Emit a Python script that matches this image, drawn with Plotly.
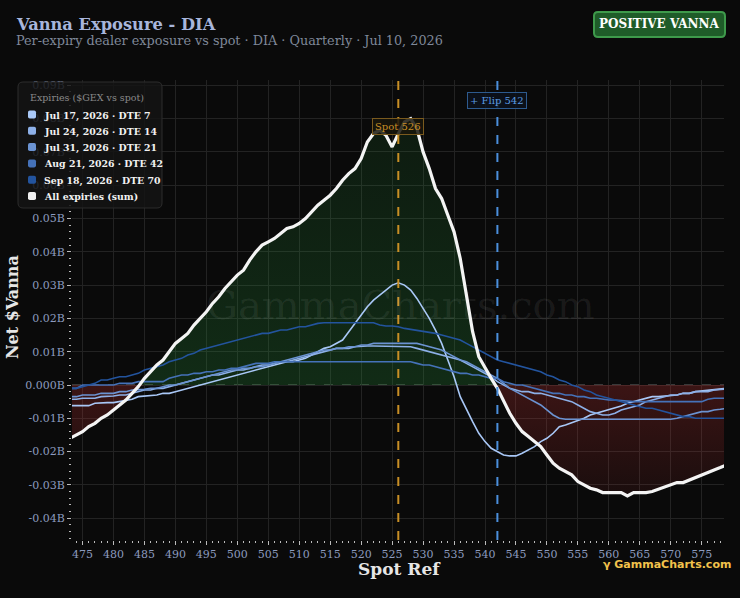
import plotly.graph_objects as go

# ---------------- data (values in $ millions; plotted in billions) ----------------
spot_ref = list(range(473, 580))

sum_all = [-16, -15, -14, -12.5, -11.5, -10, -9, -7.5, -6, -4.5, -2.5, -0.5, 2, 4, 6, 7.5, 10, 12.5, 14, 15.5,
           18, 20, 22, 24.5, 26.5, 29, 31, 33, 34.5, 37.5, 40, 42, 43, 44, 45.5, 47, 47.5, 48.5, 50, 52,
           54, 55.5, 57, 59, 61.5, 63.5, 65, 68, 73, 75.5, 76.5, 75, 71.5, 75.5, 79, 80, 77, 70, 65, 59,
           56, 51, 46, 38, 27, 16, 8.5, 5, 2, -1, -5, -8.5, -11.5, -14, -15.5, -17, -18.5, -21, -23.5, -25,
           -26, -27, -29, -30, -31, -31.5, -32.3, -32.3, -32.3, -32.3, -33.3, -32.3, -32.3, -32.3, -32, -31.3, -30.5, -30,
           -29.3, -29.3, -28.5, -27.8, -27, -26.3, -25.5, -24.8, -24]

dte7 = [-6.2, -6.2, -6.2, -6.2, -5.5, -5.3, -5.3, -5.3, -5, -4.7, -4.3, -3.5, -3.3, -3, -3, -2.5, -2.5, -2, -1.5, -1,
        -0.5, 0, 0.5, 1, 1.5, 2, 2.5, 3, 3.5, 4, 4.5, 5, 5.5, 6, 6.5, 7, 7, 7.5, 8, 9,
        10, 11, 11.5, 12.5, 13.5, 16, 18.5, 21, 23.5, 25.5, 27, 28.5, 30, 30.7, 30, 28.5, 26, 23, 20, 16.5,
        12.5, 7.5, 2.5, -3.5, -7.5, -11, -14.5, -17, -19, -20, -21, -21.3, -21.3, -20.5, -19.5, -18.5, -17, -16, -14.5, -12.5,
        -12, -11.3, -10.5, -10, -9, -8.5, -8, -7.5, -7, -6.3, -5.5, -5, -4.3, -4, -3.5, -3.5, -3.3, -3,
        -3, -2.5, -2.5, -2, -1.8, -1.5, -1.3, -1, -1]

dte14 = [-4.3, -4.3, -4, -4, -4, -3.5, -3.5, -3.3, -3, -3, -2.5, -2, -1.5, -1.5, -1, -1, -0.5, 0, 0.5, 1,
         1.5, 2, 2.5, 3, 3, 3.5, 4, 4.5, 4.5, 5, 5.5, 6, 6, 6.5, 7, 7, 7.5, 8, 8.5, 9,
         9.5, 10, 10.5, 11, 11, 11, 11.5, 11.7, 11.7, 11.7, 11.7, 11.7, 11.7, 11.7, 11.7, 11.5, 11, 10.5, 10, 9.5,
         9, 8.5, 8, 7.5, 6.5, 5.5, 4.5, 3.5, 2.5, 1, 0, -1, -1.5, -2, -2, -2.5, -2.5, -3, -3.5, -4,
         -4.5, -5, -6, -7, -8, -8.5, -9, -9, -8.5, -7.5, -7, -6.5, -6, -5, -4.5, -4, -3.5, -3,
         -3, -2.5, -2.5, -2, -2, -2, -1.5, -1.3, -1.2]

dte21 = [-3.5, -3.5, -3, -3, -3, -2.5, -2.5, -2.5, -2, -2, -1.5, -1.5, -1.3, -1, -1, -0.5, 0, 0, 0.5, 1,
         1.5, 2, 2.5, 3, 3.5, 4, 4.5, 4.5, 5, 5, 5.5, 5.5, 6, 6.5, 7, 7.5, 8, 8.5, 9, 9.5,
         10, 10.5, 10.5, 11, 11, 11.5, 11.5, 12, 12, 12.5, 12.5, 12.5, 12.5, 12.5, 12.5, 12.5, 12.5, 12, 11.5, 11,
         10.5, 9.5, 8.5, 7.5, 7, 6, 5, 4, 3, 2, 0.5, -1, -2, -3, -4, -5, -6, -7.5, -9, -10,
         -10.3, -10.3, -10.3, -10.3, -10.3, -10.3, -10.3, -10.3, -10.3, -10.3, -10.3, -10.3, -10.3, -10.3, -10.3, -10.3, -10.3, -10.3,
         -10, -9.5, -9, -8.5, -8, -8, -7.5, -7.3, -7]

dte42 = [-1, -1, 0, 0, 0, 0, 0, 0, 0.5, 0.5, 0.5, 1, 1, 1, 1, 1, 2, 2.5, 3, 3,
         3.5, 3.5, 4, 4, 4.5, 4.5, 5, 5, 5.5, 6, 6.5, 6.5, 6.5, 7, 7, 7, 7, 7, 7, 7,
         7, 7, 7, 7, 7, 7, 7, 7, 7, 7, 7, 7, 7, 7, 7, 7, 6.5, 6, 6, 5.5,
         5, 4.5, 4, 3.5, 3.5, 3, 3, 2.5, 2, 2, 1, 0.5, 0, 0, -0.5, -1, -1.5, -2, -2.5, -2.5,
         -3, -3, -3.5, -3.5, -4, -4, -4.3, -4.5, -4.5, -4.7, -5, -5, -5, -5, -5, -5, -5, -5,
         -5, -5, -5, -5, -5, -4.3, -4, -4, -4]

dte70 = [-1, -1, -0.5, 0, 0.5, 1.5, 1.5, 2, 2.5, 2.5, 3, 3.5, 4.5, 5, 5.5, 6, 7, 7.5, 8, 9,
         9.5, 10.5, 11, 11.5, 12, 12.5, 13, 13.5, 14, 14.5, 15, 15.5, 15.5, 16, 16.5, 16.5, 17, 17.5, 17.5, 18,
         18.5, 18.7, 18.7, 18.7, 18.7, 18.7, 18.7, 18.7, 18.7, 18.7, 18, 17.7, 17.7, 17.5, 17, 16.7, 16.5, 16, 15.7, 15.5,
         15, 14.5, 14, 13.5, 12.5, 11.5, 10.5, 9.5, 8.5, 7.5, 7, 6.5, 6, 5.5, 5, 4.5, 4, 3, 2.5, 1.5,
         1, 0, -0.5, -1.5, -2, -3, -3.5, -4, -4.5, -5, -5.5, -6, -6.5, -7, -7, -7.5, -8, -8.5,
         -9, -9.5, -9.5, -10, -10, -10, -10, -10, -10]

expiry_names = ["Jul 17, 2026 · DTE 7", "Jul 24, 2026 · DTE 14", "Jul 31, 2026 · DTE 21",
                "Aug 21, 2026 · DTE 42", "Sep 18, 2026 · DTE 70"]
expiry_series = [dte7, dte14, dte21, dte42, dte70]
expiry_colors = ["#a9c8f7", "#8db0e8", "#6b93d2", "#4572b9", "#23549e"]
sum_name = "All expiries (sum)"
sum_color = "#f4f4f4"

spot_price = 526
flip_price = 542

y_tickvals = [-0.04, -0.03, -0.02, -0.01, 0.0, 0.01, 0.02, 0.03, 0.04, 0.05, 0.06, 0.07, 0.08, 0.09]
y_ticktext = ["-0.04B", "-0.03B", "-0.02B", "-0.01B", "0.000B", "0.01B", "0.02B", "0.03B",
              "0.04B", "0.05B", "0.06B", "0.07B", "0.08B", "0.09B"]
x_tickvals = list(range(475, 580, 5))

# ---------------- figure ----------------
def to_b(vals):
    return [v / 1000.0 for v in vals]

sum_b = to_b(sum_all)
pos_part = [max(v, 0.0) for v in sum_b]
neg_part = [min(v, 0.0) for v in sum_b]

SERIF = "DejaVu Serif"
W0, W1, T, B = 72, 724, 80, 540


def px(xp):
    return (xp - W0) / (W1 - W0)


def py(yp):
    return (B - yp) / (B - T)


def rrect(x0, y0, x1, y1, r):
    pts = [("M", x0 + r, y0), ("L", x1 - r, y0), ("Q", x1, y0, x1, y0 + r), ("L", x1, y1 - r),
           ("Q", x1, y1, x1 - r, y1), ("L", x0 + r, y1), ("Q", x0, y1, x0, y1 - r), ("L", x0, y0 + r),
           ("Q", x0, y0, x0 + r, y0)]
    s = ""
    for p in pts:
        cmd, coords = p[0], p[1:]
        vals = []
        for i in range(0, len(coords), 2):
            vals.append(f"{px(coords[i]):.5f},{py(coords[i + 1]):.5f}")
        s += cmd + " " + " ".join(vals) + " "
    return s + "Z"


fig = go.Figure()

fig.add_trace(go.Scatter(
    x=spot_ref, y=pos_part, mode="lines", line=dict(width=0), fill="tozeroy",
    fillgradient=dict(type="vertical", start=0.0, stop=0.08,
                      colorscale=[[0, "rgba(40,150,60,0.24)"], [1, "rgba(40,150,60,0.12)"]]),
    hoverinfo="skip", showlegend=False))
fig.add_trace(go.Scatter(
    x=spot_ref, y=neg_part, mode="lines", line=dict(width=0), fill="tozeroy",
    fillgradient=dict(type="vertical", start=-0.034, stop=0.0,
                      colorscale=[[0, "rgba(200,50,50,0.08)"], [1, "rgba(200,50,50,0.26)"]]),
    hoverinfo="skip", showlegend=False))

for name, vals, col in zip(expiry_names, expiry_series, expiry_colors):
    fig.add_trace(go.Scatter(x=spot_ref, y=to_b(vals), mode="lines", name=name,
                             line=dict(color=col, width=1.6), showlegend=False))

fig.add_trace(go.Scatter(x=spot_ref, y=sum_b, mode="lines", name=sum_name,
                         line=dict(color=sum_color, width=3.2), showlegend=False))

shapes = [
    dict(type="line", xref="paper", x0=0, x1=1, yref="y", y0=0, y1=0,
         line=dict(color="#4a4a4a", width=1.5, dash="dash"), layer="below"),
    dict(type="line", xref="x", x0=spot_price, x1=spot_price, yref="paper", y0=0, y1=1,
         line=dict(color="#c98f25", width=2, dash="dash")),
    dict(type="line", xref="x", x0=flip_price, x1=flip_price, yref="paper", y0=0, y1=1,
         line=dict(color="#4b8fdc", width=2, dash="dash")),
    # badge
    dict(type="path", xref="paper", yref="paper", path=rrect(594, 12, 725, 37, 4),
         fillcolor="#1f5c29", line=dict(color="#3e9a4b", width=2)),
    # legend box
    dict(type="path", xref="paper", yref="paper", path=rrect(18, 82, 162, 208, 5),
         fillcolor="rgba(20,20,20,0.86)", line=dict(color="#2c2c2c", width=1)),
]

annotations = [
    dict(text="<b>Vanna Exposure - DIA</b>", x=px(14), y=py(24), xanchor="left", yanchor="middle",
         font=dict(family=SERIF, size=16.3, color="#a8b6dc")),
    dict(text="Per-expiry dealer exposure vs spot · DIA · Quarterly · Jul 10, 2026", x=px(14), y=py(41),
         xanchor="left", yanchor="middle", font=dict(family=SERIF, size=12.8, color="#7f8899")),
    dict(text="<b>POSITIVE VANNA</b>", x=px(659.5), y=py(24.5), xanchor="center", yanchor="middle",
         font=dict(family=SERIF, size=12, color="#ffffff")),
    dict(text="GammaCharts.com", x=px(400), y=py(305), xanchor="center", yanchor="middle",
         font=dict(family=SERIF, size=40, color="rgba(255,255,255,0.07)")),
    dict(text="<b>Net $Vanna</b>", x=px(12), y=py(307), textangle=-90, xanchor="center", yanchor="middle",
         font=dict(family=SERIF, size=16, color="#e6e6e6")),
    dict(text="<b>Spot Ref</b>", x=px(399), y=py(569), xanchor="center", yanchor="middle",
         font=dict(family=SERIF, size=17, color="#e6e6e6")),
    dict(text="<b>γ GammaCharts.com</b>", x=px(733), y=py(564), xanchor="right", yanchor="middle",
         font=dict(family="DejaVu Sans", size=11, color="#f2c24c")),
    dict(text="Spot 526", xref="x", x=spot_price, y=py(126.5), xanchor="center", yanchor="middle",
         font=dict(family=SERIF, size=10, color="#c98f25"), bgcolor="rgba(25,22,12,0.85)",
         bordercolor="#7a5a1e", borderwidth=1, borderpad=2),
    dict(text="+ Flip 542", xref="x", x=flip_price, y=py(101), xanchor="center", yanchor="middle",
         font=dict(family=SERIF, size=10, color="#5a9be2"), bgcolor="rgba(12,18,28,0.85)",
         bordercolor="#2d5a8e", borderwidth=1, borderpad=2),
    dict(text="Expiries ($GEX vs spot)", x=px(28), y=py(97.5), xanchor="left", yanchor="middle",
         font=dict(family=SERIF, size=9.5, color="#8a8a8a")),
]

# legend rows (built from the series names / colours)
row_y = [114.5, 130.8, 147.1, 163.4, 179.7, 196]
for (name, col), yy in zip(zip(expiry_names + [sum_name], expiry_colors + ["#f0f0f0"]), row_y):
    shapes.append(dict(type="path", xref="paper", yref="paper", path=rrect(28, yy - 4, 36, yy + 4, 1.8),
                       fillcolor=col, line=dict(width=0)))
    annotations.append(dict(text=f"<b>{name}</b>", x=px(41.5), y=py(yy + 0.5), xanchor="left", yanchor="middle",
                            font=dict(family=SERIF, size=9.4, color="#f2f2f2")))

for a in annotations:
    a.setdefault("xref", "paper")
    a.setdefault("yref", "paper")
    a.setdefault("showarrow", False)

fig.update_layout(
    width=740, height=598,
    margin=dict(l=W0, r=740 - W1, t=T, b=598 - B),
    paper_bgcolor="#0a0a0a", plot_bgcolor="#0a0a0a",
    font=dict(family=SERIF, color="#dddddd"),
    annotations=annotations, shapes=shapes,
    showlegend=False,
    xaxis=dict(range=[473.3, 578.6], tickvals=x_tickvals, showgrid=True, gridcolor="#232323", gridwidth=1,
               zeroline=False, ticks="outside", ticklen=4, tickcolor="#bbbbbb", showline=False,
               tickfont=dict(family=SERIF, size=11, color="#8c9bbf"),
               minor=dict(dtick=1, ticks="outside", ticklen=2, tickcolor="#bbbbbb", showgrid=False)),
    yaxis=dict(range=[-0.04655, 0.0916], tickvals=y_tickvals, ticktext=y_ticktext, showgrid=True,
               gridcolor="#232323", gridwidth=1, zeroline=False, ticks="outside", ticklen=4,
               tickcolor="#bbbbbb", showline=False,
               tickfont=dict(family=SERIF, size=11, color="#8c9bbf"),
               minor=dict(dtick=0.002, ticks="outside", ticklen=2, tickcolor="#bbbbbb", showgrid=False)),
)

fig.write_html("out.html")
